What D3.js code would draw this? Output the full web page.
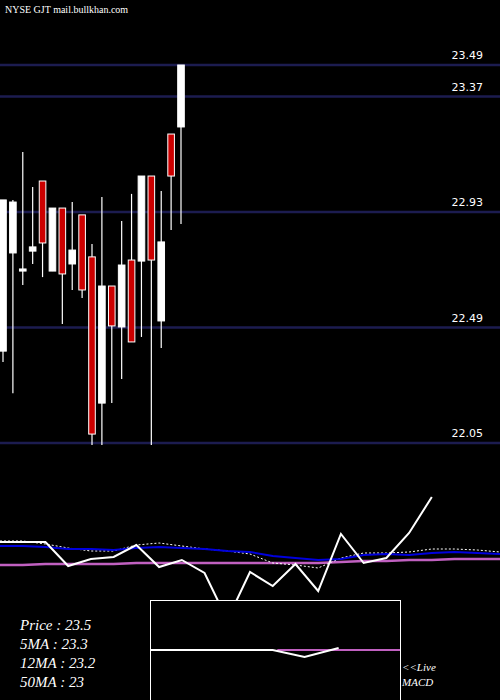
<!DOCTYPE html>
<html><head><meta charset="utf-8">
<script src="https://cdn.jsdelivr.net/npm/d3@7"></script>
<style>body{margin:0;background:#000}svg{display:block}</style>
</head><body>
<script>
const opens  = [22.40,22.774,22.705,22.781,23.048,22.705,22.945,22.732,22.919,22.759,22.202,22.648,22.492,22.747,22.743,23.067,22.515,23.227,23.254];
const highs  = [22.976,22.976,23.159,23.025,23.048,22.945,22.945,22.968,22.919,22.808,22.987,22.648,22.896,22.999,23.067,23.067,23.01,23.227,23.49];
const lows   = [22.359,22.24,22.652,22.732,22.682,22.705,22.503,22.633,22.602,22.042,22.042,22.202,22.294,22.435,22.454,22.042,22.412,22.861,22.884];
const closes = [22.976,22.968,22.713,22.797,22.812,22.945,22.694,22.785,22.633,22.084,22.648,22.496,22.728,22.435,23.067,22.747,22.816,23.067,23.49];
const priceTicks = [23.49,23.37,22.93,22.49,22.05];
const macdLine = [58,58,58,34,41,43,55,33,40,27,-20,28,14,36,9,66,37,42,67,103];
const blueLine = [54,54,53,51,51,50,52,53,52,51,49,48,44,42,40,41,45,46,45,47,48,47,46];
const dotLine  = [59,59,56,52,49,49,55,57,54,51,49,46,37,35,32,42,47,47,48,51,51,50,48];
const pinkLine = [35,35,36,36,36,36,37,37,37,37,37,37,37,37,37,38,39,39,40,40,41,41,41];
const histIdx  = [6.6,8,10,12,13.4,14.9];
const histVals = [0,0,0,0,-7,2];
const sigIdx   = [12.2,17.6];
const sigVals  = [0,0];
const infoLabels = ["Price   : 23.5","5MA : 23.3","12MA : 23.2","50MA : 23"];

const svg = d3.select("body").append("svg").attr("width",500).attr("height",700);
svg.append("rect").attr("width",500).attr("height",700).attr("fill","#000");
const y = d3.scaleLinear().domain([22.05,23.49]).range([443,65]);
const x = d3.scaleLinear().domain([0,18]).range([3,181]);

svg.selectAll(".grid").data(priceTicks).join("line")
  .attr("x1",0).attr("x2",500).attr("y1",d=>y(d)).attr("y2",d=>y(d))
  .attr("stroke","#1c1c50").attr("stroke-width",2.5);
svg.selectAll(".tl").data(priceTicks).join("text")
  .attr("x",483).attr("y",d=>y(d)-6).attr("text-anchor","end")
  .attr("fill","#fff").attr("font-family","DejaVu Sans").attr("font-size",11).text(d=>d);
svg.append("text").attr("x",5).attr("y",13).attr("fill","#fff").attr("font-family","Liberation Serif").attr("font-size",10).text("NYSE GJT mail.bullkhan.com");

const idx = d3.range(opens.length);
svg.selectAll(".wick").data(idx).join("line")
  .attr("x1",i=>x(i)).attr("x2",i=>x(i)).attr("y1",i=>y(highs[i])).attr("y2",i=>y(lows[i]))
  .attr("stroke","#fff").attr("stroke-width",1.2);
svg.selectAll(".body").data(idx).join("rect")
  .attr("x",i=>x(i)-3.3).attr("width",6.6)
  .attr("y",i=>y(Math.max(opens[i],closes[i])))
  .attr("height",i=>Math.max(2,Math.abs(y(opens[i])-y(closes[i]))))
  .attr("fill",i=>closes[i]>=opens[i]?"#fff":"#cc0000")
  .attr("stroke","#fff").attr("stroke-width",1);

const xi = d3.scaleLinear().domain([0,22]).range([0,500]);
const yi = d3.scaleLinear().domain([0,100]).range([600,500]);
const ln = d3.line().x((d,i)=>xi(i)).y(d=>yi(d));
svg.append("path").attr("d",ln(pinkLine)).attr("fill","none").attr("stroke","#c060c0").attr("stroke-width",2.5);
svg.append("path").attr("d",ln(dotLine)).attr("fill","none").attr("stroke","#fff").attr("stroke-width",1).attr("stroke-dasharray","2,2");
svg.append("path").attr("d",ln(blueLine)).attr("fill","none").attr("stroke","#0000dd").attr("stroke-width",2);
svg.append("path").attr("d",ln(macdLine)).attr("fill","none").attr("stroke","#fff").attr("stroke-width",2);

svg.append("rect").attr("x",150.5).attr("y",600.5).attr("width",250).attr("height",110).attr("fill","#000").attr("stroke","#fff").attr("stroke-width",1);
const ym = d3.scaleLinear().domain([0,10]).range([650,640]);
svg.append("path").attr("d",d3.line().x((d,i)=>xi(sigIdx[i])).y(d=>ym(d))(sigVals)).attr("fill","none").attr("stroke","#c060c0").attr("stroke-width",2);
svg.append("path").attr("d",d3.line().x((d,i)=>xi(histIdx[i])).y(d=>ym(d))(histVals)).attr("fill","none").attr("stroke","#fff").attr("stroke-width",2);

svg.selectAll(".info").data(infoLabels).join("text")
  .attr("x",20).attr("y",(d,i)=>630+i*19).attr("fill","#fff")
  .attr("font-family","Liberation Serif").attr("font-style","italic").attr("font-size",15).text(d=>d);
svg.selectAll(".live").data(["<<Live","MACD"]).join("text")
  .attr("x",402).attr("y",(d,i)=>671+i*15).attr("fill","#fff")
  .attr("font-family","Liberation Serif").attr("font-style","italic").attr("font-size",11).text(d=>d);
</script>
</body></html>
